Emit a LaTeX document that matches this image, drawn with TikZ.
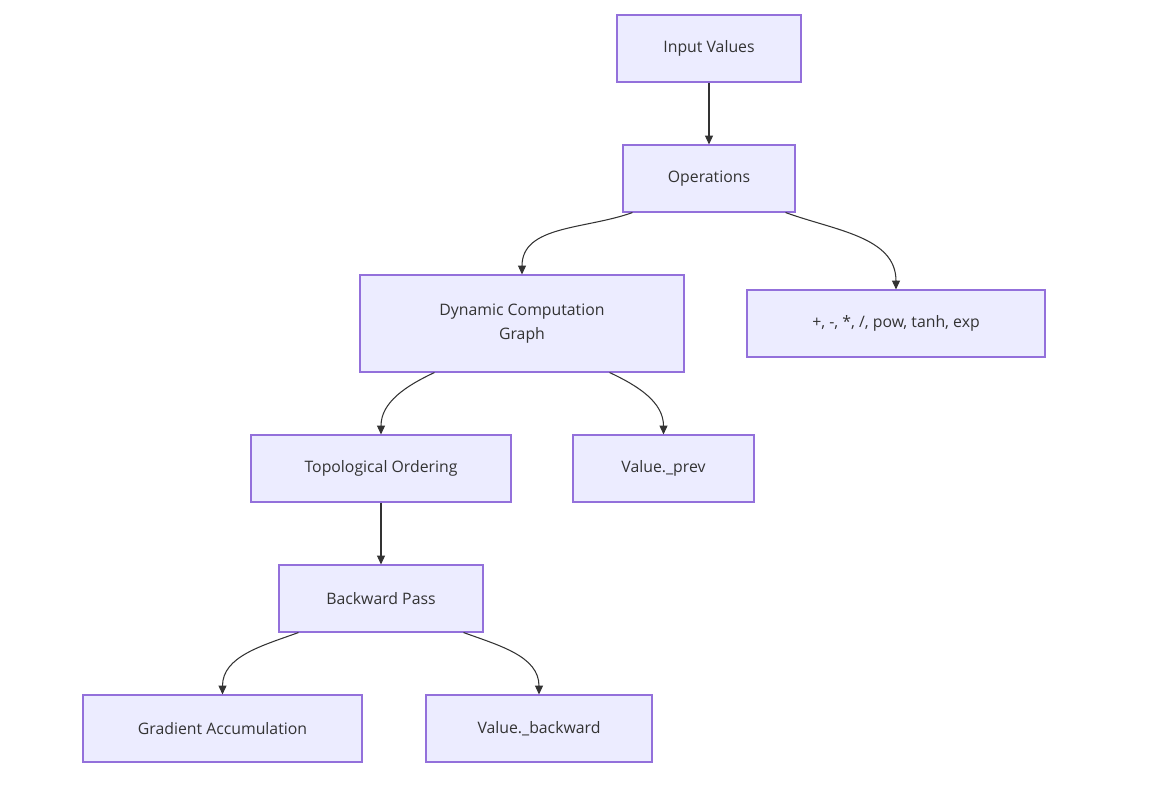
\documentclass[tikz,border=0pt]{standalone}
\usepackage{fontspec}
\setmainfont{Open Sans}
\usetikzlibrary{arrows.meta}
\definecolor{boxfill}{HTML}{ECECFF}
\definecolor{boxline}{HTML}{9370DB}
\definecolor{edge}{HTML}{333333}
\tikzset{
  box/.style={draw=boxline, fill=boxfill, line width=0.6pt, minimum height=67*0.02cm,
    align=center, font=\fontsize{9}{13.5}\selectfont, text=edge, inner sep=0pt},
  link/.style={draw=edge, line width=0.6pt, -{Triangle[length=5pt,width=4.5pt]}}
}
\begin{document}
\begin{tikzpicture}[x=0.02cm,y=-0.02cm]
                \useasboundingbox (0,0) rectangle (1160,787);

                \node[box, minimum width=184*0.02cm] (input) at (709,48.5) {Input Values};
                \node[box, minimum width=172*0.02cm] (ops) at (709,178.5) {Operations};
                \node[box, minimum width=324*0.02cm, minimum height=97*0.02cm] (graph) at (522,323.5) {Dynamic Computation\\Graph};
                \node[box, minimum width=298*0.02cm] (list) at (896,323.5) {+, -, *, /, pow, tanh, exp};
                \node[box, minimum width=260*0.02cm] (topo) at (381,468.5) {Topological Ordering};
                \node[box, minimum width=181*0.02cm] (prev) at (663.5,468.5) {Value.\_prev};
                \node[box, minimum width=204*0.02cm] (back) at (381,598.5) {Backward Pass};
                \node[box, minimum width=279*0.02cm] (grad) at (222.5,728.5) {Gradient Accumulation};
                \node[box, minimum width=226*0.02cm] (bwd) at (539,728.5) {Value.\_backward};

                \draw[link] (input) -- (ops);
                \draw[link] ([xshift=10*0.02cm]ops.south west) to[out=200, in=90] (graph.north);
                \draw[link] ([xshift=-10*0.02cm]ops.south east) to[out=-20, in=90] (list.north);
                \draw[link] ([xshift=75*0.02cm]graph.south west) to[out=205, in=90] (topo.north);
                \draw[link] ([xshift=-75*0.02cm]graph.south east) to[out=-25, in=90] (prev.north);
                \draw[link] (topo) -- (back);
                \draw[link] ([xshift=20*0.02cm]back.south west) to[out=200, in=90] (grad.north);
                \draw[link] ([xshift=-20*0.02cm]back.south east) to[out=-20, in=90] (bwd.north);

\end{tikzpicture}
\end{document}
